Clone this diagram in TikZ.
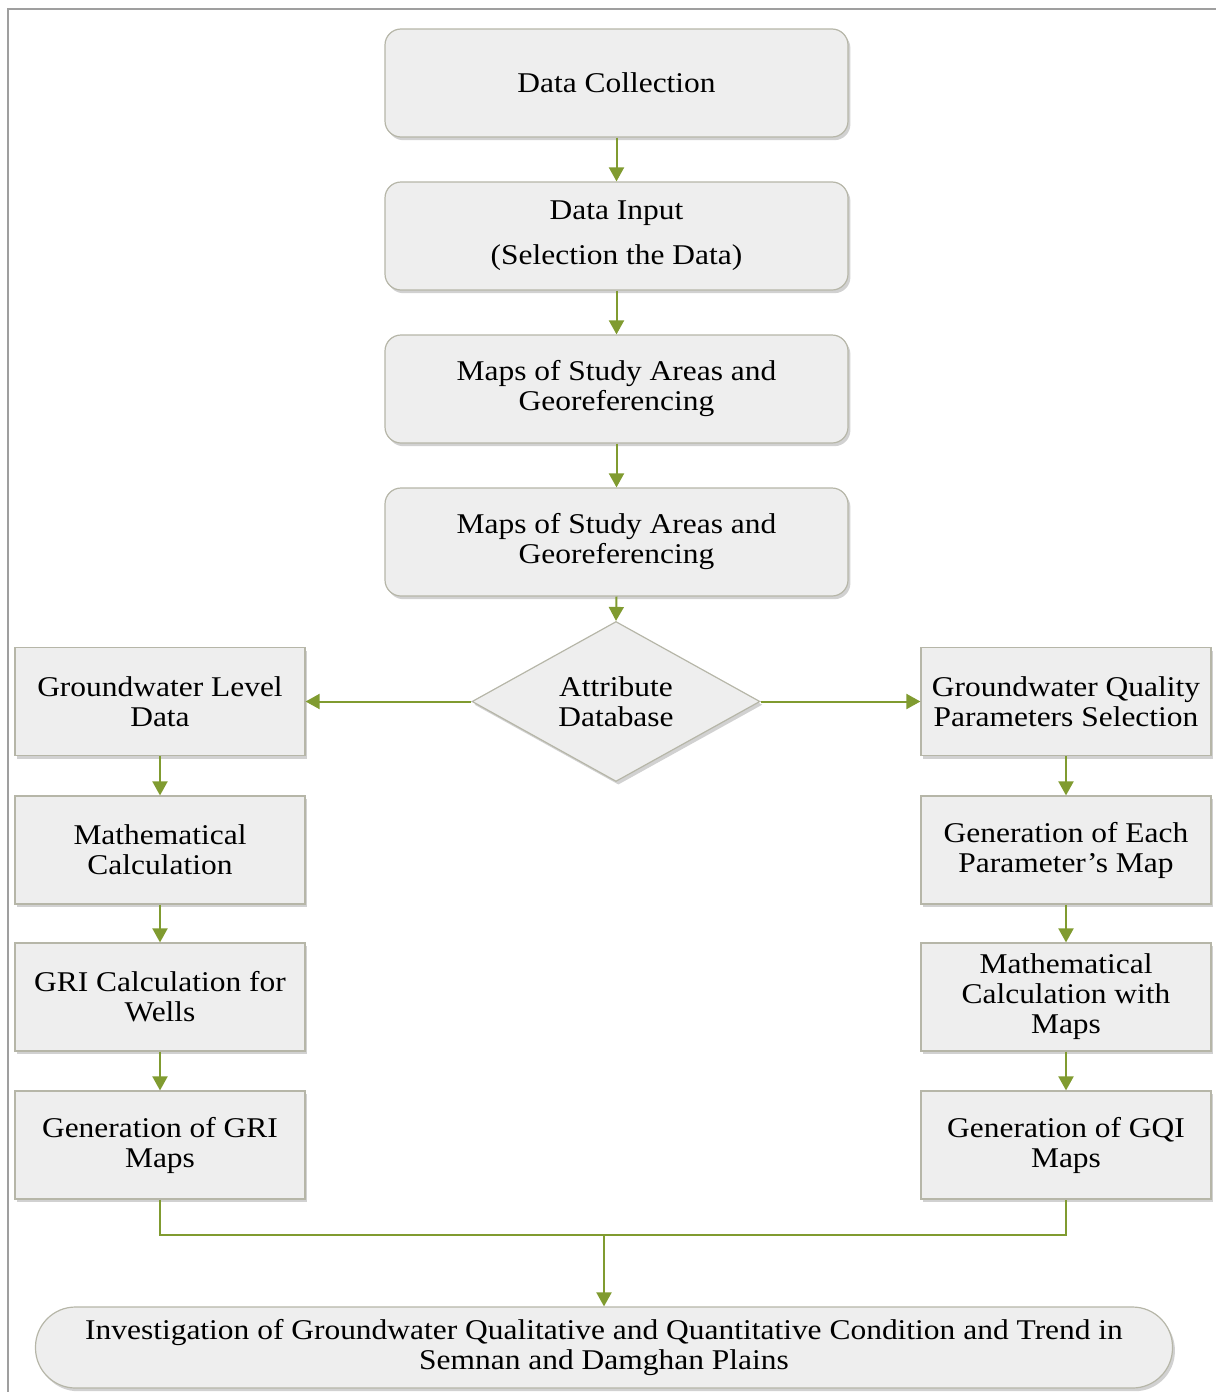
\documentclass[tikz,border=0pt]{standalone}
\usepackage{fontspec}
\setmainfont{Liberation Serif}[FakeStretch=1.1]
\usetikzlibrary{arrows.meta,shapes.geometric,shadows}
\definecolor{olive}{RGB}{128,155,48}
\definecolor{boxfill}{RGB}{238,238,238}
\definecolor{boxline}{RGB}{182,182,168}
\tikzset{
  box/.style={draw=boxline, fill=boxfill, line width=0.6pt, align=center,
    drop shadow={shadow xshift=1.2pt, shadow yshift=-1.6pt, fill=gray!60, opacity=.6},
    font=\fontsize{14.3}{15}\selectfont, inner sep=2pt},
  topbox/.style={box, rounded corners=8pt, minimum width=231.5pt, minimum height=54pt},
  sidebox/.style={box, minimum width=145pt, minimum height=54pt},
  decision/.style={box, diamond, minimum width=144pt, minimum height=80pt, aspect=1.8, inner sep=0pt},
  endbox/.style={box, rounded corners=20pt, minimum width=568.5pt, minimum height=40.5pt},
  arr/.style={draw=olive, line width=1pt, -{Triangle[length=7pt,width=7.5pt]}},
  link/.style={draw=olive, line width=1pt}
}
\begin{document}
\begin{tikzpicture}[x=0.5pt, y=-0.5pt]
    \useasboundingbox (0,0) rectangle (1218,1392);
    \draw[gray!75, line width=1.1pt] (8,1392) -- (8,9) -- (1216,9);

    % main column
    \node[topbox] (collect) at (616.5,83) {Data Collection};
    \node[topbox] (input) at (616.5,236) {Data Input\\[7.5pt](Selection the Data)};
    \node[topbox] (maps) at (616.5,389) {Maps of Study Areas and\\Georeferencing};
    \node[topbox] (georef) at (616.5,542) {Maps of Study Areas and\\Georeferencing};
    \node[decision] (attr) at (616,701.5) {Attribute\\Database};

    % left branch
    \node[sidebox] (lev) at (160,701.5) {Groundwater Level\\Data};
    \node[sidebox] (mcalc) at (160,850) {Mathematical\\Calculation};
    \node[sidebox] (gric) at (160,997) {GRI Calculation for\\Wells};
    \node[sidebox] (grim) at (160,1145) {Generation of GRI\\Maps};

    % right branch
    \node[sidebox] (qual) at (1066,701.5) {Groundwater Quality\\Parameters Selection};
    \node[sidebox] (pmap) at (1066,850) {Generation of Each\\Parameter's Map};
    \node[sidebox] (mmap) at (1066,997) {Mathematical\\Calculation with\\Maps};
    \node[sidebox] (gqim) at (1066,1145) {Generation of GQI\\Maps};

    \node[endbox] (invest) at (604,1347.5) {Investigation of Groundwater Qualitative and Quantitative Condition and Trend in\\Semnan and Damghan Plains};

    \foreach \a/\b in {collect/input, input/maps, maps/georef, georef/attr,
                       lev/mcalc, mcalc/gric, gric/grim,
                       qual/pmap, pmap/mmap, mmap/gqim}
        \draw[arr] (\a.south) -- (\b.north);
    \draw[arr] (attr.west) -- (lev.east);
    \draw[arr] (attr.east) -- (qual.west);

    \coordinate (join) at (604,1235);
    \draw[link] (grim.south) |- (join) -| (gqim.south);
    \draw[arr] (join) -- (invest.north);
\end{tikzpicture}
\end{document}
